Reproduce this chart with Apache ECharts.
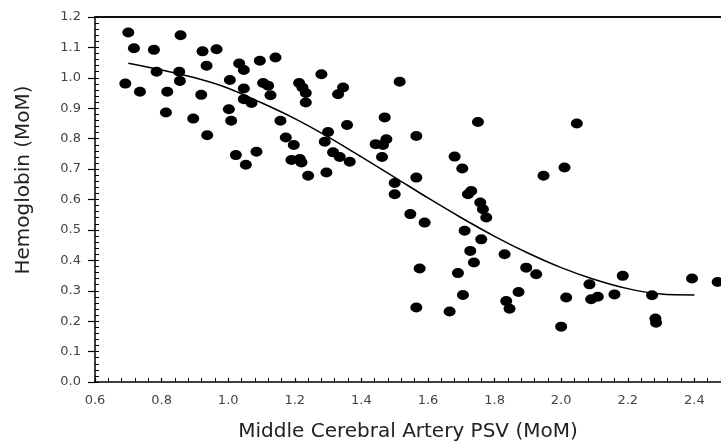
<!DOCTYPE html>
<html><head><meta charset="utf-8">
<script src="https://cdn.jsdelivr.net/npm/echarts@6/dist/echarts.min.js"></script>
<style>html,body{margin:0;padding:0;background:#fff}#c{width:721px;height:447px}</style>
</head><body><div id="c"></div>
<script>
// Scatter points: Middle Cerebral Artery PSV (MoM) vs Hemoglobin (MoM)
const psv = [0.70,0.857,0.717,0.777,0.923,0.965,0.935,0.785,0.853,0.855,0.691,0.735,0.817,0.919,0.813,0.895,0.937,
  1.033,1.047,1.095,1.142,1.280,1.005,1.105,1.120,1.047,1.127,1.213,1.223,1.233,1.233,1.047,1.070,1.002,1.009,1.157,
  1.173,1.197,1.300,1.290,1.023,1.085,1.053,1.190,1.215,1.220,1.295,1.240,1.345,1.330,1.515,1.470,1.357,1.565,1.443,
  1.475,1.465,1.462,1.315,1.335,1.365,1.500,1.565,1.500,1.547,1.590,1.750,1.680,1.703,1.947,2.010,2.047,1.730,1.720,
  1.757,1.765,1.775,1.710,1.760,1.727,1.738,1.830,1.895,1.925,1.690,1.575,1.872,1.705,1.835,1.845,1.665,1.565,2.015,
  2.000,2.185,2.085,2.393,2.470,2.090,2.110,2.160,2.273,2.283,2.285];
const hb = [1.149,1.140,1.097,1.092,1.087,1.094,1.040,1.020,1.020,0.990,0.981,0.954,0.954,0.944,0.886,0.866,0.811,
  1.047,1.026,1.056,1.067,1.012,0.993,0.983,0.974,0.965,0.943,0.983,0.968,0.950,0.919,0.930,0.917,0.897,0.859,0.859,
  0.804,0.779,0.822,0.790,0.746,0.757,0.714,0.730,0.733,0.722,0.689,0.678,0.968,0.946,0.987,0.870,0.845,0.809,0.782,
  0.798,0.779,0.740,0.755,0.740,0.724,0.654,0.672,0.617,0.552,0.524,0.855,0.741,0.702,0.678,0.705,0.850,0.628,0.617,
  0.590,0.568,0.541,0.497,0.469,0.431,0.393,0.420,0.376,0.354,0.358,0.373,0.296,0.286,0.266,0.241,0.232,0.245,0.278,
  0.182,0.349,0.321,0.340,0.329,0.272,0.280,0.288,0.285,0.209,0.195];
// Fitted curve
const fitX = [0.70,0.80,0.90,1.00,1.10,1.20,1.30,1.40,1.50,1.60,1.70,1.80,1.90,2.00,2.10,2.20,2.30,2.40];
const fitY = [1.048,1.026,1.000,0.966,0.918,0.866,0.806,0.740,0.673,0.605,0.540,0.479,0.424,0.376,0.337,0.307,0.289,0.286];

const xTitle = 'Middle Cerebral Artery PSV (MoM)';
const yTitle = 'Hemoglobin (MoM)';

const FONT = '"DejaVu Sans", Verdana, sans-serif';
const chart = echarts.init(document.getElementById('c'), null, {renderer: 'canvas'});
const fmt = v => Number(v).toFixed(1);
chart.setOption({
  animation: false,
  backgroundColor: '#fff',
  grid: {left: 95, top: 17, right: 0, bottom: 64, containLabel: false},
  graphic: [{
    type: 'text', x: 24, y: 180, rotation: Math.PI / 2,
    style: {text: yTitle, font: '20px ' + FONT, fill: '#222', align: 'center', verticalAlign: 'middle'}
  }],
  xAxis: [{
    type: 'value', min: 0.6, max: 2.48, interval: 0.2,
    name: xTitle, nameLocation: 'middle', nameGap: 40,
    nameTextStyle: {fontSize: 20, fontFamily: FONT, color: '#222'},
    axisLine: {show: true, lineStyle: {color: '#000', width: 1.5}},
    axisTick: {show: true, inside: true, length: 4, lineStyle: {color: '#000', width: 1.2}},
    minorTick: {show: true, splitNumber: 5, length: 4, lineStyle: {color: '#000', width: 1}},
    axisLabel: {formatter: fmt, fontSize: 13, fontFamily: FONT, color: '#444', margin: 12, showMaxLabel: false},
    splitLine: {show: false}
  }, {
    type: 'value', position: 'top', min: 0.6, max: 2.48,
    axisLine: {show: true, onZero: false, lineStyle: {color: '#111', width: 2}},
    axisTick: {show: false}, axisLabel: {show: false}, splitLine: {show: false}
  }],
  yAxis: [{
    type: 'value', min: 0, max: 1.2, interval: 0.1,
    axisLine: {show: true, lineStyle: {color: '#000', width: 1.5}},
    axisTick: {show: true, inside: false, length: 7, lineStyle: {color: '#000', width: 1.2}},
    axisLabel: {formatter: fmt, fontSize: 13, fontFamily: FONT, color: '#444', margin: 14},
    splitLine: {show: false}
  }, {
    type: 'value', position: 'left', min: 0, max: 1.2, interval: 0.1,
    axisLine: {show: false},
    axisTick: {show: true, inside: true, length: 4, lineStyle: {color: '#000', width: 1}},
    minorTick: {show: true, splitNumber: 5, length: 4, lineStyle: {color: '#000', width: 1}},
    axisLabel: {show: false}, splitLine: {show: false}
  }],
  series: [{
    type: 'scatter', xAxisIndex: 0, yAxisIndex: 0,
    data: psv.map((x, i) => [x, hb[i]]),
    symbol: 'circle', symbolSize: [12, 10],
    itemStyle: {color: '#000', opacity: 1},
    clip: false, silent: true
  }, {
    type: 'line', xAxisIndex: 0, yAxisIndex: 0,
    data: fitX.map((x, i) => [x, fitY[i]]),
    smooth: 0.3, showSymbol: false, symbol: 'none',
    lineStyle: {color: '#000', width: 1.5},
    silent: true
  }]
});
</script></body></html>
